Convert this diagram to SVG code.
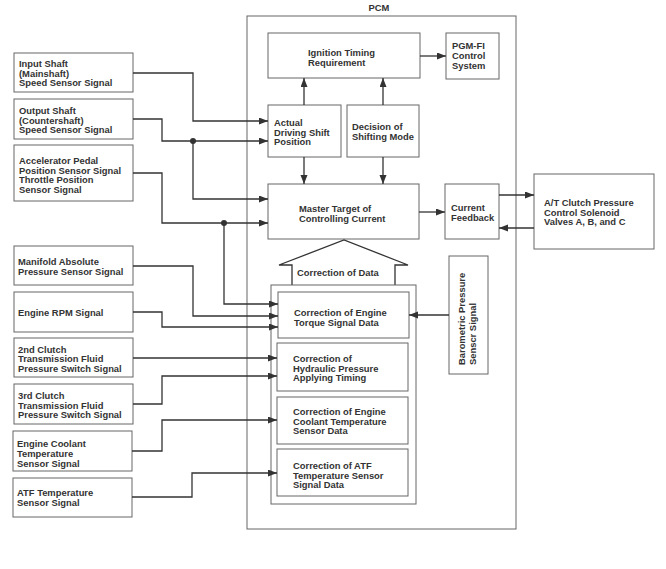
<svg xmlns="http://www.w3.org/2000/svg" width="666" height="569" viewBox="0 0 666 569">
<style>
.box{fill:#fff;stroke:#666;stroke-width:1}
.t{font-family:"Liberation Sans",Arial,sans-serif;font-weight:bold;font-size:9.4px;fill:#333}
.c{fill:none;stroke:#333;stroke-width:1.3}
.ca{fill:none;stroke:#333;stroke-width:1.3;marker-end:url(#ah)}
</style>
<defs>
<marker id="ah" markerUnits="userSpaceOnUse" markerWidth="10" markerHeight="8" refX="9" refY="3.5" orient="auto">
<path d="M0,0 L9,3.5 L0,7 z" fill="#333"/>
</marker>
</defs>
<rect width="666" height="569" fill="#fff"/>

<g id="pcm">
<rect class="box" x="247" y="16" width="269" height="513"/>
<text class="t" x="379" y="11" text-anchor="middle">PCM</text>
</g>

<g id="in1"><rect class="box" x="14" y="53" width="119" height="39"/>
<text class="t"><tspan x="19" y="67">Input Shaft</tspan><tspan x="19" y="76.5">(Mainshaft)</tspan><tspan x="19" y="86">Speed Sensor Signal</tspan></text></g>
<g id="in2"><rect class="box" x="14" y="99" width="119" height="40"/>
<text class="t"><tspan x="19" y="114">Output Shaft</tspan><tspan x="19" y="123.5">(Countershaft)</tspan><tspan x="19" y="133">Speed Sensor Signal</tspan></text></g>
<g id="in3"><rect class="box" x="14" y="145" width="119" height="56"/>
<text class="t"><tspan x="19" y="164">Accelerator Pedal</tspan><tspan x="19" y="173.5">Position Sensor Signal</tspan><tspan x="19" y="183">Throttle Position</tspan><tspan x="19" y="192.5">Sensor Signal</tspan></text></g>
<g id="in4"><rect class="box" x="14" y="246" width="119" height="39"/>
<text class="t"><tspan x="18" y="265">Manifold Absolute</tspan><tspan x="18" y="274.5">Pressure Sensor Signal</tspan></text></g>
<g id="in5"><rect class="box" x="14" y="292" width="119" height="40"/>
<text class="t"><tspan x="18" y="316">Engine RPM Signal</tspan></text></g>
<g id="in6"><rect class="box" x="14" y="338" width="119" height="39"/>
<text class="t"><tspan x="18" y="352.5">2nd Clutch</tspan><tspan x="18" y="362">Transmission Fluid</tspan><tspan x="18" y="371.5">Pressure Switch Signal</tspan></text></g>
<g id="in7"><rect class="box" x="14" y="384" width="119" height="40"/>
<text class="t"><tspan x="18" y="399">3rd Clutch</tspan><tspan x="18" y="408.5">Transmission Fluid</tspan><tspan x="18" y="418">Pressure Switch Signal</tspan></text></g>
<g id="in8"><rect class="box" x="13" y="431" width="119" height="40"/>
<text class="t"><tspan x="17" y="447">Engine Coolant</tspan><tspan x="17" y="457">Temperature</tspan><tspan x="17" y="466.5">Sensor Signal</tspan></text></g>
<g id="in9"><rect class="box" x="13" y="478" width="119" height="39"/>
<text class="t"><tspan x="17" y="496">ATF Temperature</tspan><tspan x="17" y="505.5">Sensor Signal</tspan></text></g>

<g id="ign"><rect class="box" x="268" y="33" width="152" height="45"/>
<text class="t"><tspan x="308" y="56">Ignition Timing</tspan><tspan x="308" y="65.5">Requirement</tspan></text></g>
<g id="pgm"><rect class="box" x="446" y="33" width="53" height="46"/>
<text class="t"><tspan x="452" y="49">PGM-FI</tspan><tspan x="452" y="59">Control</tspan><tspan x="452" y="68.5">System</tspan></text></g>
<g id="actual"><rect class="box" x="268" y="105" width="73" height="52"/>
<text class="t"><tspan x="274" y="126">Actual</tspan><tspan x="274" y="135.5">Driving Shift</tspan><tspan x="274" y="145">Position</tspan></text></g>
<g id="decision"><rect class="box" x="347" y="105" width="72" height="52"/>
<text class="t"><tspan x="352" y="130">Decision of</tspan><tspan x="352" y="139.5">Shifting Mode</tspan></text></g>
<g id="master"><rect class="box" x="268" y="184" width="151" height="55"/>
<text class="t"><tspan x="299" y="212">Master Target of</tspan><tspan x="299" y="221.5">Controlling Current</tspan></text></g>
<g id="feedback"><rect class="box" x="445" y="184" width="54" height="55"/>
<text class="t"><tspan x="451" y="211">Current</tspan><tspan x="451" y="220.5">Feedback</tspan></text></g>
<g id="solenoid"><rect class="box" x="534" y="174" width="120" height="75"/>
<text class="t"><tspan x="544" y="206">A/T Clutch Pressure</tspan><tspan x="544" y="215.5">Control Solenoid</tspan><tspan x="544" y="225">Valves A, B, and C</tspan></text></g>

<g id="correction-data">
<path class="c" d="M292,285 V265 H279 L344,240 L408,265 H395 V285"/>
<text class="t" x="297" y="276">Correction of Data</text>
<rect class="box" x="271" y="285" width="145" height="219" style="fill:none"/>
</g>
<g id="torque"><rect class="box" x="278" y="292" width="131" height="46"/>
<text class="t"><tspan x="294" y="316">Correction of Engine</tspan><tspan x="294" y="325.5">Torque Signal Data</tspan></text></g>
<g id="hydraulic"><rect class="box" x="277" y="343" width="131" height="48"/>
<text class="t"><tspan x="293" y="362">Correction of</tspan><tspan x="293" y="371.5">Hydraulic Pressure</tspan><tspan x="293" y="381">Applying Timing</tspan></text></g>
<g id="coolant"><rect class="box" x="277" y="397" width="131" height="47"/>
<text class="t"><tspan x="293" y="415">Correction of Engine</tspan><tspan x="293" y="424.5">Coolant Temperature</tspan><tspan x="293" y="434">Sensor Data</tspan></text></g>
<g id="atf"><rect class="box" x="277" y="449" width="131" height="47"/>
<text class="t"><tspan x="293" y="469">Correction of ATF</tspan><tspan x="293" y="478.5">Temperature Sensor</tspan><tspan x="293" y="488">Signal Data</tspan></text></g>
<g id="baro"><rect class="box" x="449" y="256" width="39" height="118"/>
<text class="t" transform="translate(465,365) rotate(-90)"><tspan x="0" y="0">Barometric Pressure</tspan><tspan x="0" y="10.5">Senscr Signal</tspan></text></g>

<g id="connectors">
<path class="ca" d="M133,73 H193 V121 H268"/>
<path class="ca" d="M133,119 H162 V141 H268"/>
<path class="ca" d="M193,141 V199 H268"/>
<path class="ca" d="M133,173 H162 V223 H268"/>
<path class="ca" d="M224,223 V304 H278"/>
<path class="ca" d="M133,266 H193 V316 H278"/>
<path class="ca" d="M133,312 H162 V327 H278"/>
<path class="ca" d="M133,358 H277"/>
<path class="ca" d="M133,404 H162 V376 H277"/>
<path class="ca" d="M132,451 H162 V420 H277"/>
<path class="ca" d="M132,497 H192 V473 H277"/>
<circle cx="193" cy="141" r="3" fill="#333"/>
<circle cx="224" cy="223" r="3" fill="#333"/>
<path class="ca" d="M304,105 V78"/>
<path class="ca" d="M383,105 V78"/>
<path class="ca" d="M304,157 V184"/>
<path class="ca" d="M383,157 V184"/>
<path class="ca" d="M420,56 H446"/>
<path class="ca" d="M419,212 H445"/>
<path class="ca" d="M499,195 H534"/>
<path class="ca" d="M534,228 H499"/>
<path class="ca" d="M449,315 H409"/>
</g>
</svg>
